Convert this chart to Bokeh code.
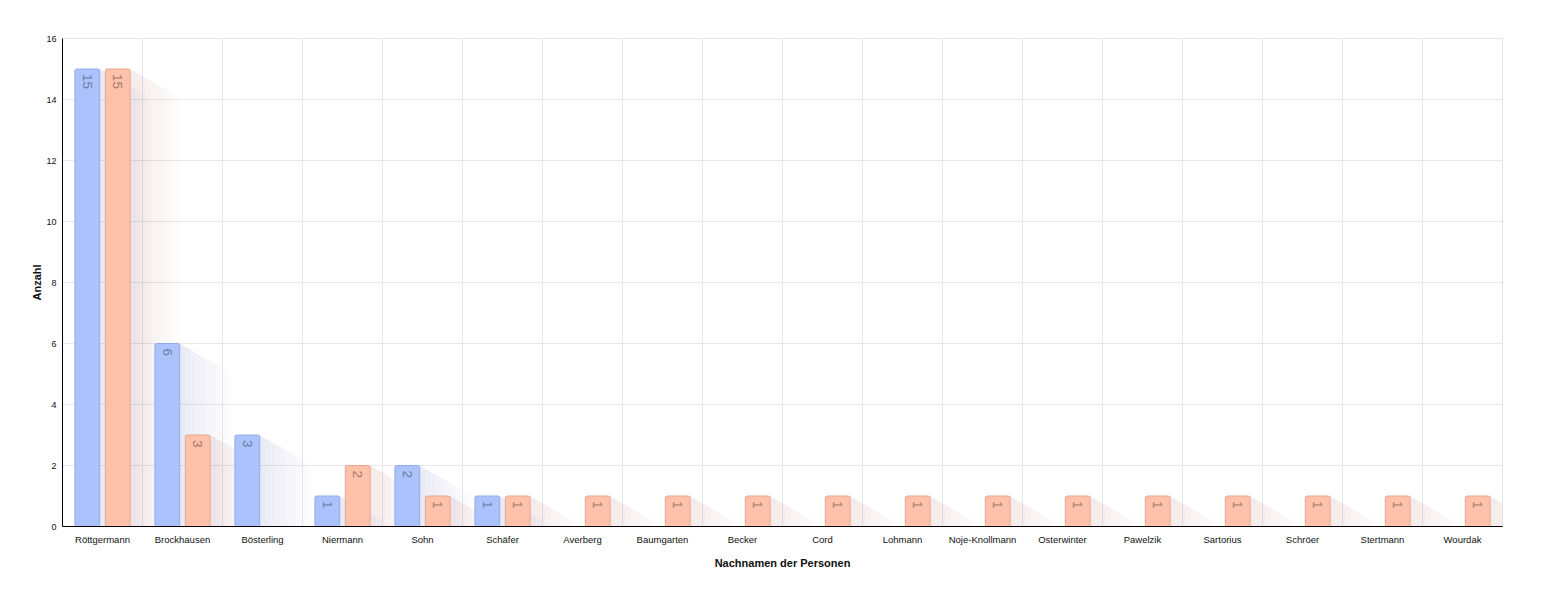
import math
from bokeh.plotting import figure
from bokeh.models import ColumnDataSource, FixedTicker, Range1d
from bokeh.core.properties import value
from bokeh.embed import file_html
from bokeh.resources import INLINE

names = ["Röttgermann", "Brockhausen", "Bösterling", "Niermann", "Sohn", "Schäfer",
         "Averberg", "Baumgarten", "Becker", "Cord", "Lohmann", "Noje-Knollmann",
         "Osterwinter", "Pawelzik", "Sartorius", "Schröer", "Stertmann", "Wourdak"]
series_a = [15, 6, 3, 1, 2, 1, 0, 0, 0, 0, 0, 0, 0, 0, 0, 0, 0, 0]
series_b = [15, 3, 0, 2, 1, 1, 1, 1, 1, 1, 1, 1, 1, 1, 1, 1, 1, 1]
y_ticks = [0, 2, 4, 6, 8, 10, 12, 14, 16]

FONT = "Liberation Sans"
n = len(names)
W, H = 1557, 593
frame_w, frame_h = 1440, 488
ymax = 16

p = figure(width=W, height=H, output_backend="svg", toolbar_location=None,
           x_range=Range1d(0, n), y_range=Range1d(0, ymax),
           min_border_left=62, min_border_right=55, min_border_top=38, min_border_bottom=67)
p.outline_line_color = "#e6e6e6"
p.background_fill_color = "white"

bw = 0.31
off = 0.19
px_x = n / frame_w
px_y = ymax / frame_h

series = [
    (series_a, -off, "#abc2fd", "#93abe8", "#5b6a8c", "#4a5a90"),
    (series_b, off, "#fec1a9", "#e9a78f", "#8a6a5a", "#90604a"),
]

# shadows (long, fading, down-right)
ang = math.radians(30)
for vals, o, fill, line, tcol, scol in series:
    for L in [6, 12, 18, 24, 30, 36, 42, 48, 54, 60]:
        dx = L * math.cos(ang) * px_x
        dy = -L * math.sin(ang) * px_y
        xs, ys = [], []
        for i, v in enumerate(vals):
            if v <= 0:
                continue
            x0 = i + 0.5 + o - bw / 2
            x1 = i + 0.5 + o + bw / 2
            xs.append([x0, x0, x1, x1 + dx, x1 + dx, x0 + dx])
            ys.append([0, v, v, v + dy, dy, dy])
        p.patches(xs, ys, fill_color=scol, fill_alpha=0.013, line_color=None)

for vals, o, fill, line, tcol, scol in series:
    xs = [i + 0.5 + o for i, v in enumerate(vals) if v > 0]
    tops = [v for v in vals if v > 0]
    src = ColumnDataSource(dict(x=xs, top=tops, lab=[str(v) for v in tops],
                                ty=[v - 5 * px_y for v in tops]))
    p.vbar(x="x", top="top", bottom=0, width=bw, source=src, fill_color=fill,
           line_color=line, line_width=1, border_radius=2)
    p.text(x="x", y="ty", text="lab", source=src, angle=-math.pi / 2,
           text_align="left", text_baseline="middle", text_color=tcol,
           text_alpha=0.85, text_font=value(FONT), text_font_size="13.5px")

p.xaxis.ticker = FixedTicker(ticks=[i + 0.5 for i in range(n)])
p.xaxis.major_label_overrides = {i + 0.5: nm for i, nm in enumerate(names)}
p.xaxis.major_tick_line_color = None
p.xaxis.major_tick_out = 0
p.xaxis.major_tick_in = 0
p.xaxis.minor_tick_line_color = None
p.xaxis.axis_line_color = "black"
p.xaxis.major_label_text_font = FONT
p.xaxis.major_label_text_font_size = "9.5px"
p.xaxis.major_label_text_color = "#111111"
p.xaxis.major_label_standoff = 7
p.xaxis.axis_label = "Nachnamen der Personen"
p.xaxis.axis_label_text_font = FONT
p.xaxis.axis_label_text_font_size = "11px"
p.xaxis.axis_label_text_font_style = "bold"
p.xaxis.axis_label_text_color = "#111111"
p.xaxis.axis_label_standoff = 9

p.yaxis.ticker = FixedTicker(ticks=y_ticks)
p.yaxis.major_tick_line_color = None
p.yaxis.major_tick_out = 0
p.yaxis.major_tick_in = 0
p.yaxis.minor_tick_line_color = None
p.yaxis.axis_line_color = "black"
p.yaxis.major_label_text_font = FONT
p.yaxis.major_label_text_font_size = "9px"
p.yaxis.major_label_text_color = "#111111"
p.yaxis.major_label_standoff = 6
p.yaxis.axis_label = "Anzahl"
p.yaxis.axis_label_text_font = FONT
p.yaxis.axis_label_text_font_size = "11px"
p.yaxis.axis_label_text_font_style = "bold"
p.yaxis.axis_label_text_color = "#111111"
p.yaxis.axis_label_standoff = 0

p.xgrid.ticker = FixedTicker(ticks=list(range(n + 1)))
p.xgrid.grid_line_color = "#e8e8e8"
p.ygrid.grid_line_color = "#e8e8e8"

open("out.html", "w").write(file_html(p, INLINE))
